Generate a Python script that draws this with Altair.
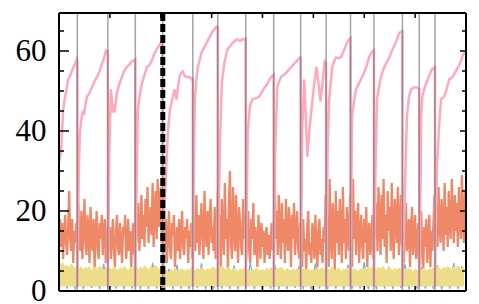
import altair as alt
import pandas as pd

# ---- data ----
pink_x = [0, 4, 8, 10, 12, 15, 18, 21, 25, 28, 31, 33, 35, 36,
          36, 39, 41, 44, 47, 49, 51, 55, 60, 65, 70, 75, 80, 84, 88, 92, 94, 96,
          96, 99, 102, 106, 108, 110, 114, 118, 124, 128, 133, 138, 143, 147, 150,
          150, 153, 155, 159, 163, 168, 173, 178, 183, 188, 192, 196, 200, 203,
          204, 207, 214, 218, 224, 227, 231, 234, 237, 240, 243, 247, 251, 256, 261, 263,
          263, 265, 267, 270, 273, 277, 280, 285, 290, 295, 302, 306, 310, 312,
          312, 316, 320, 325, 331, 336, 341, 346, 351, 356, 361, 364, 367,
          367, 370, 371, 375, 380, 387, 394, 399, 404, 409, 414, 418, 422,
          422, 425, 429, 433, 437, 442, 447, 452, 457, 462, 467, 473, 475,
          475, 478, 482, 485, 488, 492, 496, 501, 506, 510, 514, 518, 522, 525,
          525, 528, 531, 537, 541, 545, 550, 555, 561, 567, 571, 573,
          573, 575, 576, 580, 584, 590, 596, 600, 604, 610, 616, 619,
          619, 622, 625, 629, 633, 638, 643, 648, 653, 658, 663, 669, 675,
          675, 680, 682, 684, 688, 692, 698, 704, 708,
          708, 711, 712, 714, 718, 722, 727, 733, 739,
          739, 741, 743, 747, 751, 757, 762, 767, 773, 778, 782, 786, 790, 794, 798]
pink_y = [32, 34.6, 45, 47, 48.6, 50.5, 52.9, 53.5, 54.9, 55.8, 56.6, 57.2, 58, 57.5,
          1, 30, 39.5, 43, 45, 44, 45.9, 48.6, 49.5, 51, 52.5, 53.6, 55, 56.6, 58, 60, 59.5, 60.2,
          1, 35, 50.4, 44.6, 46, 45.4, 49.6, 51.5, 53.6, 55, 56, 56.5, 57.4, 57.6, 57.9,
          1, 30, 45.4, 49, 52, 54, 56, 56.5, 57.8, 59.5, 60.4, 61.2, 62, 62.5,
          1, 20, 39.6, 45.4, 48.6, 50.4, 47.9, 51, 53.6, 54.5, 54.9, 53.8, 53.4, 53.6, 52.9, 53,
          1, 30, 47.9, 53, 56, 58, 59.6, 60.8, 62, 63.2, 64.9, 65.5, 66.1, 66,
          1, 35, 52, 57, 60.4, 61.2, 62, 62.6, 62.9, 62.5, 63, 62.8, 63,
          1, 30, 39.6, 46, 47.9, 48.2, 48.6, 49.8, 50.9, 51.6, 52.9, 53.6, 54.1,
          1, 35, 51, 52.5, 53.6, 54, 54.6, 55.4, 56, 56.8, 57.4, 58.4, 58.2,
          1, 40, 52.9, 44, 33.6, 40, 45, 51, 56, 52, 47.4, 52, 57.4, 57,
          1, 35, 47.9, 56, 57.5, 58.4, 58.2, 58.6, 60.4, 62.4, 63, 63.2,
          1, 30, 43.7, 47.5, 50.4, 52, 53.6, 54.7, 56, 58.6, 59.9, 60.2,
          1, 30, 47.9, 51, 53.6, 55.5, 57, 58, 59.6, 61, 62.4, 64.6, 64.9,
          1, 25, 35.4, 43.7, 48.6, 50.4, 50.9, 50.9, 50.5,
          1, 30, 43.7, 48.6, 50.5, 52, 53.6, 55.4, 56,
          1, 20, 31, 41, 47.9, 48.6, 50.5, 52.9, 53.4, 54.5, 55.4, 56.3, 57.4, 59.1, 59.5]

# orange series, one value every 2 x-units
orange = [15, 18, 11, 17, 8, 14, 19, 12, 9, 16, 25, 13, 10, 18, 7, 15, 12, 17, 9, 22, 14, 10, 20, 8, 16,
          23, 12, 9, 19, 15, 7, 21, 13, 10, 18, 5, 14, 20, 11, 8, 17, 13, 19, 9, 15, 18, 7, 12, 17, 10,
          16, 8, 13, 18, 10, 6, 15, 19, 11, 9, 17, 12, 7, 16, 14, 19, 8, 12, 18, 10, 15, 6, 13, 17, 9,
          20, 12, 17, 22, 10, 15, 24, 13, 19, 11, 23, 16, 26, 12, 18, 21, 14, 27, 11, 20, 25, 13, 28, 16, 22,
          26, 12, 19, 9, 15, 18, 7, 13, 20, 11, 8, 17, 14, 19, 6, 12, 16, 10, 18, 8, 14, 20, 11, 9, 16,
          13, 18, 7, 15, 11, 17, 8, 21, 14, 10, 24, 12, 19, 9, 16, 22, 13, 8, 25, 15, 11, 20, 9, 18, 23,
          12, 16, 10, 21, 8, 14, 25, 11, 19, 6, 23, 15, 9, 27, 13, 18, 5, 22, 30, 12, 8, 26, 16, 10, 24,
          14, 7, 21, 17, 11, 9, 23, 13, 19, 8, 15, 20, 10, 7, 18, 13, 22, 9, 16, 12, 6, 19, 14, 8, 17,
          11, 15, 7, 13, 16, 9, 14, 8, 12, 17, 10, 14, 31, 13, 20, 9, 24, 15, 8, 22, 12, 18, 7, 23, 14,
          10, 21, 16, 6, 19, 13, 22, 9, 15, 20, 11, 8, 17, 14, 6, 18, 10, 13, 5, 16, 20, 9, 12, 7, 17,
          14, 8, 19, 11, 6, 15, 18, 9, 13, 7, 16, 12, 24, 10, 19, 6, 28, 14, 8, 22, 17, 5, 25, 12, 20,
          9, 23, 15, 7, 26, 12, 18, 8, 21, 14, 10, 24, 16, 6, 28, 13, 20, 9, 17, 22, 7, 14, 19, 11, 8,
          18, 12, 21, 6, 15, 17, 9, 13, 19, 8, 30, 14, 22, 10, 26, 17, 9, 24, 13, 28, 11, 19, 7, 25, 15,
          21, 10, 27, 14, 8, 23, 18, 12, 26, 9, 16, 24, 11, 20, 7, 15, 22, 10, 13, 18, 6, 16, 21, 9, 14,
          19, 8, 12, 17, 6, 14, 20, 9, 5, 16, 11, 18, 7, 13, 19, 6, 15, 10, 17, 24, 13, 20, 11, 26, 16,
          12, 23, 18, 10, 27, 14, 21, 11, 25, 16, 13, 28, 19, 12, 24, 15, 22, 11, 26, 17, 13, 29, 18, 12, 25]

# yellow band: ragged top, one value every 4 x-units, and its floor
yellow_top = [7.5, 6.8, 7.2, 6.1, 6.6, 5.9, 6.9, 6.3, 5.8, 6.5, 5.6, 6.2, 5.4, 6.0, 5.7, 6.3, 5.2, 5.9, 6.1, 5.5, 6.4, 5.8, 5.3, 6.0, 5.6,
              5.9, 5.4, 6.2, 5.7, 5.1, 6.0, 5.5, 6.3, 5.8, 5.2, 6.1, 5.6, 6.4, 5.9, 5.3, 6.2, 5.7, 6.5, 6.0, 5.4, 6.3, 5.8, 6.6, 6.1, 5.7,
              5.5, 5.0, 5.7, 5.2, 4.8, 5.6, 5.1, 5.9, 5.3, 4.9, 5.8, 5.4, 5.0, 5.6, 5.2, 6.0, 5.5, 5.1, 5.8, 5.3, 6.1, 5.6, 5.0, 5.7, 5.4,
              5.8, 6.2, 5.5, 6.0, 5.7, 6.4, 5.9, 5.3, 6.1, 5.6, 5.2, 5.9, 5.4, 5.0, 5.7, 5.3, 5.8, 5.1, 5.5, 4.9, 5.6, 5.2, 5.8, 5.4, 5.1,
              5.5, 5.0, 5.8, 5.3, 6.0, 5.6, 5.2, 5.9, 5.5, 6.1, 5.7, 5.1, 5.8, 5.4, 5.0, 5.6, 5.2, 5.9, 5.4, 5.0, 5.7, 5.3, 5.9, 5.5, 5.1,
              5.6, 5.2, 5.9, 5.4, 6.0, 5.6, 5.1, 5.8, 5.3, 6.1, 5.7, 5.2, 5.9, 5.5, 5.0, 5.7, 5.3, 6.0, 5.6, 5.2, 5.8, 5.4, 5.0, 5.7, 5.3,
              5.9, 5.5, 6.2, 5.7, 6.4, 5.9, 5.4, 6.1, 5.6, 6.3, 5.8, 5.3, 6.0, 5.6, 5.2, 5.8, 5.4, 5.9, 5.5, 5.1, 5.7, 5.3, 5.8, 5.4, 5.0,
              5.6, 5.2, 5.8, 5.3, 5.9, 5.5, 5.1, 5.7, 5.4, 6.0, 5.6, 6.2, 5.8, 5.4, 6.1, 5.7, 6.3, 5.9, 5.5, 6.2, 5.8, 6.4, 6.0, 5.6, 6.3]
yellow_floor = 1.1

# blue series, one value every 8 x-units (mostly hidden under the yellow band)
blue = [0.5, 4.0, 0.6, 6.5, 0.4, 4.8, 0.5, 5.2, 0.7, 4.3,
        0.5, 6.8, 0.4, 4.6, 0.6, 5.0, 0.5, 4.1, 0.6, 6.2,
        0.4, 4.7, 0.5, 7.0, 0.6, 4.4, 0.5, 5.6, 0.4, 6.6,
        0.6, 4.2, 0.5, 5.3, 0.7, 6.9, 0.4, 4.5, 0.5, 5.8,
        0.6, 4.0, 0.5, 6.4, 0.4, 4.9, 0.6, 7.1, 0.5, 4.3,
        0.5, 5.7, 0.6, 6.7, 0.4, 4.6, 0.5, 5.1, 0.7, 6.3,
        0.5, 4.4, 0.4, 6.9, 0.6, 4.8, 0.5, 5.4, 0.6, 4.1,
        0.4, 6.6, 0.5, 4.7, 0.6, 7.2, 0.5, 4.2, 0.4, 5.5,
        0.6, 6.1, 0.5, 4.6, 0.7, 6.8, 0.4, 4.3, 0.5, 5.9,
        0.6, 4.5, 0.5, 6.4, 0.4, 4.9, 0.6, 7.0, 0.5, 6.2]

boundaries = [36, 96, 150, 204, 263, 312, 367, 422, 475, 525, 573, 619, 675, 708, 739]
dashed_at = [204]
y_major = [0, 20, 40, 60]
y_minor = [5, 10, 15, 25, 30, 35, 45, 50, 55, 65]
x_major = [100, 200, 300, 400, 500, 600, 700]

W, H = 407, 278
xs = alt.Scale(domain=[0, 800], nice=False, zero=False)
ys = alt.Scale(domain=[0, 69.5], nice=False, zero=False)
yaxis = alt.Axis(values=y_major, title=None, ticks=False, tickSize=0, domain=False, grid=False,
                 labelFont="Liberation Serif", labelFontSize=31, labelColor="black",
                 labelPadding=13)
X = lambda f: alt.X(f, type="quantitative", scale=xs, axis=None)
Y = lambda f: alt.Y(f, type="quantitative", scale=ys, axis=yaxis)

df_pink = pd.DataFrame({"x": pink_x, "y": pink_y, "i": list(range(len(pink_x)))})
df_or = pd.DataFrame({"x": [2 * i for i in range(len(orange))], "y": orange})
df_ye = pd.DataFrame({"x": [4 * i for i in range(len(yellow_top))], "y": yellow_top,
                      "y0": [yellow_floor] * len(yellow_top)})
df_bl = pd.DataFrame({"x": [8 * i for i in range(len(blue))], "y": blue})

orange_l = alt.Chart(df_or).mark_line(color="#EE8866", strokeWidth=2.3, clip=True).encode(x=X("x"), y=Y("y"))
blue_l = alt.Chart(df_bl).mark_line(color="#77AADD", strokeWidth=1.2, clip=True).encode(x=X("x"), y=Y("y"))
yellow_a = alt.Chart(df_ye).mark_area(color="#EEDD88", opacity=1, clip=True).encode(
    x=X("x"), y=Y("y"), y2="y0:Q")
pink_l = alt.Chart(df_pink).mark_line(color="#FFAABB", strokeWidth=2.5, clip=True).encode(
    x=X("x"), y=Y("y"), order="i:Q")

bounds = alt.Chart(pd.DataFrame({"x": boundaries})).mark_rule(
    color="#666666", opacity=0.6, strokeWidth=1.5).encode(x=X("x"), y=alt.value(0), y2=alt.value(H))
dashed = alt.Chart(pd.DataFrame({"x": dashed_at})).mark_rule(
    color="black", strokeWidth=5, strokeDash=[8, 3]).encode(x=X("x"), y=alt.value(0), y2=alt.value(H))

df_ymaj = pd.DataFrame({"y": y_major})
df_ymin = pd.DataFrame({"y": y_minor})
df_xmaj = pd.DataFrame({"x": x_major})
tick_style = dict(color="black", strokeWidth=1.5)
t1 = alt.Chart(df_ymaj).mark_rule(**tick_style).encode(y=Y("y"), x=alt.value(0), x2=alt.value(10))
t2 = alt.Chart(df_ymin).mark_rule(**tick_style).encode(y=Y("y"), x=alt.value(0), x2=alt.value(5))
t3 = alt.Chart(df_ymaj).mark_rule(**tick_style).encode(y=Y("y"), x=alt.value(W), x2=alt.value(W - 6))
t4 = alt.Chart(df_ymin).mark_rule(**tick_style).encode(y=Y("y"), x=alt.value(W), x2=alt.value(W - 4))
t5 = alt.Chart(df_xmaj).mark_rule(**tick_style).encode(x=X("x"), y=alt.value(0), y2=alt.value(5))
t6 = alt.Chart(df_xmaj).mark_rule(**tick_style).encode(x=X("x"), y=alt.value(H), y2=alt.value(H - 5))

# plot frame
one = pd.DataFrame({"k": [0]})
frame_style = dict(color="black", strokeWidth=2)
f_top = alt.Chart(one).mark_rule(**frame_style).encode(x=alt.value(0), x2=alt.value(W), y=alt.value(0))
f_bot = alt.Chart(one).mark_rule(**frame_style).encode(x=alt.value(0), x2=alt.value(W), y=alt.value(H))
f_lft = alt.Chart(one).mark_rule(**frame_style).encode(y=alt.value(0), y2=alt.value(H), x=alt.value(0))
f_rgt = alt.Chart(one).mark_rule(**frame_style).encode(y=alt.value(0), y2=alt.value(H), x=alt.value(W))

chart = alt.layer(orange_l, blue_l, yellow_a, pink_l, bounds, dashed,
                  t1, t2, t3, t4, t5, t6, f_top, f_bot, f_lft, f_rgt).properties(
    width=W, height=H,
    background="white",
    autosize=alt.AutoSizeParams(type="none"),
    padding={"left": 51, "top": 5, "right": 5, "bottom": 13},
).configure_view(strokeWidth=0)

chart.save("out.html", embed_options={"renderer": "svg", "actions": False})
